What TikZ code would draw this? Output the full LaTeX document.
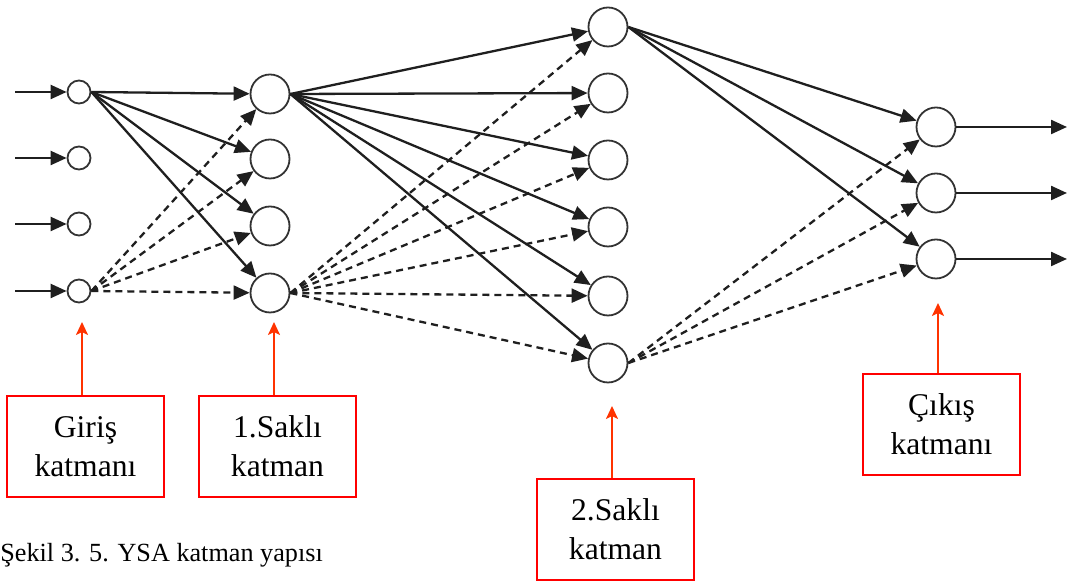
\documentclass[tikz,border=0pt]{standalone}
\usepackage{fontspec}
\setmainfont{Liberation Serif}
\usetikzlibrary{arrows.meta}
\begin{document}
\begin{tikzpicture}[x=0.5pt,y=-0.5pt,
  neuron/.style={circle,draw=black!80,line width=0.9pt,inner sep=0pt,minimum size=39*0.5pt,fill=white},
  inneuron/.style={neuron,minimum size=23*0.5pt},
  link/.style={line width=1.15pt,draw=black!88,-{Triangle[length=8pt,width=7pt]}},
  dlink/.style={link,dash pattern=on 3.5pt off 2.5pt},
  labelbox/.style={draw=red,line width=1.3pt,minimum width=157*0.5pt,minimum height=101*0.5pt,
    align=center,font=\fontsize{15.8pt}{19.5pt}\selectfont,inner sep=0pt},
  pointer/.style={draw={rgb,255:red,255;green,51;blue,0},line width=1.1pt,
    -{Stealth[length=6.5pt,width=6pt,inset=1.5pt]}}]
\useasboundingbox (0,0) rectangle (1067,581);

% input layer
\foreach \i/\y in {1/92,2/158,3/224,4/291}{
  \node[inneuron] (in\i) at (79,\y) {};
  \coordinate (src\i) at (15,\y);
  \draw[link] (src\i) -- (in\i);
}
% first hidden layer
\foreach \i/\y in {1/94,2/159,3/226,4/293}
  \node[neuron] (ha\i) at (270,\y) {};
% second hidden layer
\foreach \i/\y in {1/27,2/93,3/160,4/227,5/296,6/363}
  \node[neuron] (hb\i) at (608,\y) {};
% output layer
\foreach \i/\y in {1/127,2/193,3/259}{
  \node[neuron] (out\i) at (936,\y) {};
  \coordinate (dst\i) at (1067,\y);
  \draw[link] (out\i) -- (dst\i);
}

% connections fan out from the east side of the source neuron
\foreach \j in {1,...,4}{
  \draw[link] (in1.east) -- (ha\j);
  \draw[dlink] (in4.east) -- (ha\j);
}
\foreach \j in {1,...,6}{
  \draw[link] (ha1.east) -- (hb\j);
  \draw[dlink] (ha4.east) -- (hb\j);
}
\foreach \j in {1,...,3}{
  \draw[link] (hb1.east) -- (out\j);
  \draw[dlink] (hb6.east) -- (out\j);
}

% layer labels
\node[labelbox] (lin) at (85.5,446.5) {Giriş\\katmanı};
\node[labelbox] (lh1) at (277.5,446.5) {1.Saklı\\katman};
\node[labelbox] (lh2) at (615.5,529.5) {2.Saklı\\katman};
\node[labelbox] (lout) at (941.5,424.5) {Çıkış\\katmanı};

\coordinate (tin) at (82,322);
\coordinate (th1) at (274,322);
\coordinate (th2) at (612,406);
\coordinate (tout) at (938,303);
\draw[pointer] (lin.north -| tin) -- (tin);
\draw[pointer] (lh1.north -| th1) -- (th1);
\draw[pointer] (lh2.north -| th2) -- (th2);
\draw[pointer] (lout.north -| tout) -- (tout);

% caption
\node[anchor=base west,inner sep=0pt,font=\fontsize{13.1pt}{16pt}\selectfont] (cap) at (0,562)
  {Şekil 3. 5. YSA katman yapısı};
\end{tikzpicture}
\end{document}
